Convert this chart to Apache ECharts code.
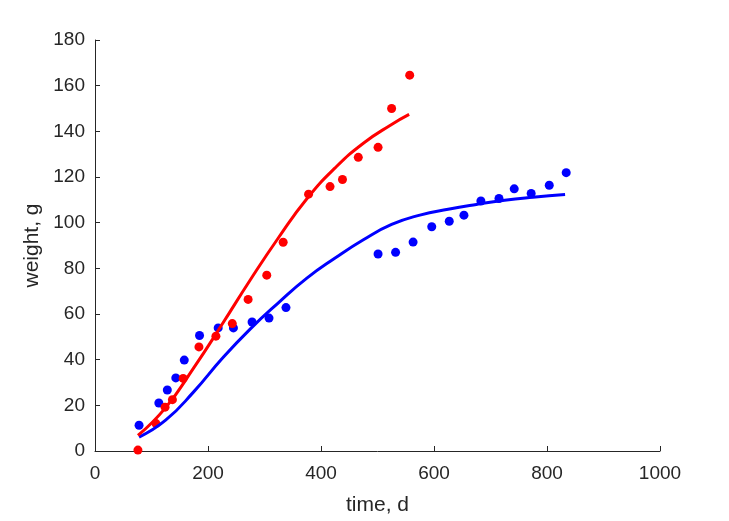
<!DOCTYPE html>
<html>
<head>
<meta charset="utf-8">
<script src="https://cdn.jsdelivr.net/npm/echarts@6/dist/echarts.min.js"></script>
<style>html,body{margin:0;padding:0;background:#fff;}#c{width:729px;height:521px;}</style>
</head>
<body>
<div id="c"></div>
<script>
// Observed data (red group)
var redTime   = [76, 108, 124, 137, 156, 184, 214, 243, 271, 304, 333, 378, 416, 438, 466, 501, 525, 557];
var redWeight = [0.4, 12, 19.2, 22.5, 31.8, 45.6, 50.3, 55.8, 66.4, 77, 91.4, 112.5, 115.8, 118.9, 128.6, 133, 150, 164.6];
// Observed data (blue group)
var blueTime   = [78, 113, 128, 143, 158, 185, 218, 245, 278, 308, 338, 501, 532, 563, 596, 627, 653, 683, 715, 742, 772, 804, 834];
var blueWeight = [11.3, 21, 26.7, 32, 39.8, 50.6, 53.9, 53.9, 56.5, 58.2, 62.8, 86.3, 87, 91.5, 98.2, 100.6, 103.3, 109.5, 110.6, 114.8, 112.8, 116.4, 121.9];
// Fitted curves
var redFitTime   = [76, 125, 175, 225, 275, 325, 375, 425, 475, 525, 556];
var redFitWeight = [6.8, 19, 36.5, 55.5, 75, 93.5, 110.5, 124, 134.8, 143, 147.4];
var blueFitTime   = [78, 125, 175, 225, 275, 325, 375, 425, 475, 525, 575, 625, 675, 725, 775, 832];
var blueFitWeight = [6.1, 13.5, 26, 40.5, 53.5, 65, 75.7, 84.5, 92.5, 99.2, 103.3, 105.9, 108, 109.8, 111.1, 112.3];
// Axis ticks
var xTicks = [0, 200, 400, 600, 800, 1000];
var yTicks = [0, 20, 40, 60, 80, 100, 120, 140, 160, 180];

function zip(a, b) { return a.map(function (v, i) { return [v, b[i]]; }); }

var textColor = '#262626';
var font = 'Liberation Sans, Arial, Helvetica, sans-serif';
var chart = echarts.init(document.getElementById('c'), null, {renderer: 'canvas'});
chart.setOption({
  animation: false,
  backgroundColor: '#ffffff',
  grid: {left: 95, right: 69, top: 40, bottom: 67, containLabel: false},
  xAxis: {
    type: 'value', min: xTicks[0], max: xTicks[xTicks.length - 1], interval: 200,
    name: 'time, d', nameLocation: 'middle', nameGap: 44,
    nameTextStyle: {color: textColor, fontSize: 21, fontFamily: font},
    axisLine: {show: true, onZero: false, lineStyle: {color: textColor, width: 1}},
    axisTick: {show: true, inside: true, length: 5, lineStyle: {color: textColor}},
    axisLabel: {color: textColor, fontSize: 19, fontFamily: font, margin: 13,
                formatter: function (v) { return String(v); }},
    splitLine: {show: false}
  },
  yAxis: {
    type: 'value', min: yTicks[0], max: yTicks[yTicks.length - 1], interval: 20,
    name: 'weight, g', nameLocation: 'middle', nameGap: 47, nameRotate: 90,
    nameTextStyle: {color: textColor, fontSize: 21, fontFamily: font},
    axisLine: {show: true, onZero: false, lineStyle: {color: textColor, width: 1}},
    axisTick: {show: true, inside: true, length: 5, lineStyle: {color: textColor}},
    axisLabel: {color: textColor, fontSize: 19, fontFamily: font, margin: 10,
                formatter: function (v) { return String(v); }},
    splitLine: {show: false}
  },
  series: [
    {type: 'scatter', data: zip(blueTime, blueWeight), symbol: 'circle', symbolSize: 9,
     itemStyle: {color: '#0000ff', opacity: 1}, z: 2},
    {type: 'scatter', data: zip(redTime, redWeight), symbol: 'circle', symbolSize: 9,
     itemStyle: {color: '#ff0000', opacity: 1}, z: 3},
    {type: 'line', data: zip(blueFitTime, blueFitWeight), smooth: 0.5, showSymbol: false,
     lineStyle: {color: '#0000ff', width: 3}, z: 4},
    {type: 'line', data: zip(redFitTime, redFitWeight), smooth: 0.5, showSymbol: false,
     lineStyle: {color: '#ff0000', width: 3}, z: 5}
  ]
});
</script>
</body>
</html>
